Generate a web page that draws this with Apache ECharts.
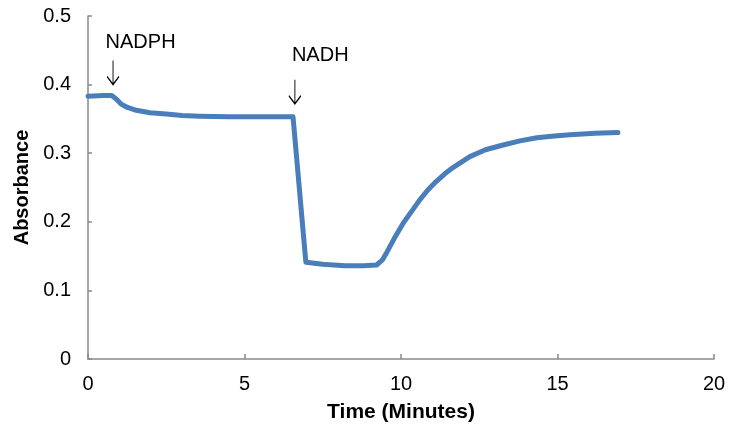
<!DOCTYPE html>
<html>
<head>
<meta charset="utf-8">
<script src="https://cdn.jsdelivr.net/npm/echarts@6/dist/echarts.min.js"></script>
<style>
  html, body { margin: 0; padding: 0; background: #fff; }
  #chart { width: 731px; height: 431px; }
</style>
</head>
<body>
<div id="chart"></div>
<script>
// time in minutes, absorbance
const times = [0, 0.5, 0.76, 0.9, 1.05, 1.24, 1.5, 1.98, 2.5, 3.0, 3.58, 4.5, 5.5, 6.55,
  6.96, 7.5, 8.2, 8.8, 9.22, 9.4, 9.54, 9.8, 10.07, 10.35, 10.6, 10.85, 11.13, 11.4,
  11.66, 12.2, 12.7, 13.26, 13.8, 14.34, 14.9, 15.4, 16.2, 16.93];
const absorbance = [0.383, 0.384, 0.384, 0.379, 0.372, 0.367, 0.363, 0.359, 0.357, 0.355, 0.354, 0.353, 0.353, 0.353,
  0.141, 0.138, 0.136, 0.136, 0.137, 0.144, 0.155, 0.177, 0.198, 0.216, 0.232, 0.246, 0.259, 0.270,
  0.279, 0.295, 0.305, 0.312, 0.318, 0.3226, 0.325, 0.327, 0.329, 0.330];

// additions: arrow tip and label position, in data units
const noteNames = ['NADPH', 'NADH'];
const noteArrowTip = [[0.8, 0.400], [6.61, 0.372]];
const noteLabelAt = [[1.68, 0.462], [7.42, 0.443]];

const chart = echarts.init(document.getElementById('chart'));

const arrowPath = 'path://M6,0 L6,24 M0,16 L6,24 L12,16';

const marks = [];
noteNames.forEach((n, i) => {
  marks.push({
    name: n + ' arrow',
    coord: noteArrowTip[i],
    symbol: arrowPath,
    symbolSize: [12, 24],
    symbolOffset: [0, '-50%'],
    itemStyle: { color: 'none', borderColor: '#000', borderWidth: 1.3 },
    label: { show: false }
  });
  marks.push({
    name: n,
    coord: noteLabelAt[i],
    symbol: 'circle',
    symbolSize: 0,
    label: {
      show: true,
      position: 'inside',
      formatter: n,
      color: '#000',
      fontSize: 20,
      fontFamily: 'Liberation Sans'
    }
  });
});

const option = {
  animation: false,
  grid: { left: 88, right: 17, top: 16, bottom: 72 },
  textStyle: { fontFamily: 'Liberation Sans' },
  xAxis: {
    type: 'value',
    min: 0, max: 20, interval: 5,
    name: 'Time (Minutes)',
    nameLocation: 'middle',
    nameGap: 43,
    nameTextStyle: { fontSize: 21, fontWeight: 'bold', color: '#000' },
    axisLine: { show: true, lineStyle: { color: '#898989', width: 1.5 } },
    axisTick: { show: true, inside: true, length: 5, lineStyle: { color: '#898989', width: 1.5 } },
    axisLabel: { fontSize: 20, color: '#000', margin: 15 },
    splitLine: { show: false }
  },
  yAxis: {
    type: 'value',
    min: 0, max: 0.5, interval: 0.1,
    name: 'Absorbance',
    nameLocation: 'middle',
    nameGap: 54,
    nameRotate: 90,
    nameTextStyle: { fontSize: 20, fontWeight: 'bold', color: '#000' },
    axisLine: { show: true, lineStyle: { color: '#898989', width: 1.5 } },
    axisTick: { show: true, inside: true, length: 4, lineStyle: { color: '#898989', width: 1.5 } },
    axisLabel: { fontSize: 20, color: '#000', margin: 17 },
    splitLine: { show: false }
  },
  series: [{
    type: 'line',
    data: times.map((t, i) => [t, absorbance[i]]),
    showSymbol: false,
    symbol: 'none',
    lineStyle: { color: '#4a7ebb', width: 5, cap: 'round', join: 'round' },
    markPoint: { silent: true, data: marks }
  }]
};

chart.setOption(option);
</script>
</body>
</html>
